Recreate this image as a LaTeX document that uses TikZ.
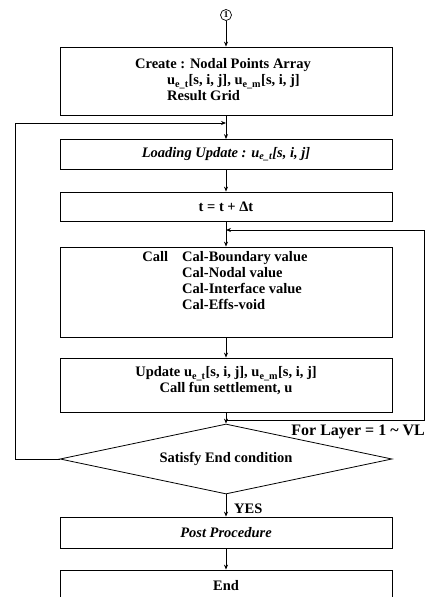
\documentclass[tikz,border=0pt]{standalone}
\usepackage{fontspec}
\setmainfont{Liberation Serif}
\usetikzlibrary{shapes.geometric,arrows.meta}
\newcommand{\ue}[1]{u\textsubscript{e\_#1}}
\begin{document}
\begin{tikzpicture}[x=1pt,y=-1pt,
  font=\bfseries\fontsize{14.5}{16}\selectfont,
  box/.style={draw, line width=0.8pt, minimum width=332pt, inner sep=0pt, align=center},
  txt/.style={inner sep=0pt, align=left},
  arr/.style={-{Stealth[length=5pt,width=4pt]}, line width=0.8pt},
  ln/.style={line width=0.8pt}]
\useasboundingbox (0,0) rectangle (427,597);
\clip (0,0) rectangle (427,597);
% nodes
\node[draw, circle, line width=0.7pt, inner sep=0pt, minimum size=11pt, font=\bfseries\fontsize{9}{9}\selectfont] (c1) at (226,15) {1};
\node[box, minimum height=68pt] (b1) at (226,81) {};
\node[txt] (t1) at (223,80) {Create : Nodal Points Array\\
  \hspace*{32pt}\ue{t}[s, i, j], \ue{m}[s, i, j]\\
  \hspace*{32pt}Result Grid};
\node[box, minimum height=30pt, font=\bfseries\itshape\fontsize{14.5}{16}\selectfont] (b2) at (226,154.5) {Loading Update : \ue{t}[s, i, j]};
\node[box, minimum height=29pt] (b3) at (226,206.5) {t = t + Δt};
\node[box, minimum height=90pt] (b4) at (226,292) {};
\node[txt] (t4) at (225,282) {\begin{tabular}{@{}l@{\hspace{14pt}}l@{}}
  Call & Cal-Boundary value\\
       & Cal-Nodal value\\
       & Cal-Interface value\\
       & Cal-Effs-void
  \end{tabular}};
\node[box, minimum height=54pt] (b5) at (226,385) {};
\node[txt, align=center] (t5) at (226,381) {Update \ue{t}[s, i, j], \ue{m}[s, i, j]\\ Call fun settlement, u};
\node[draw, diamond, line width=0.8pt, inner sep=0pt, aspect=4.7, minimum width=332pt, minimum height=70pt] (d) at (226,459) {Satisfy End condition};
\node[box, minimum height=31pt, font=\bfseries\itshape\fontsize{14.5}{16}\selectfont] (b6) at (226,532.5) {Post Procedure};
\node[box, minimum height=32pt] (b7) at (226,586) {End};
\node[inner sep=0pt, anchor=west] (yes) at (234,509) {YES};
\node[inner sep=0pt, anchor=east, font=\bfseries\fontsize{16}{18}\selectfont] (lay) at (425,432) {For Layer = 1 \textasciitilde{} VL};
% coordinates
\coordinate (m1) at (226,123);
\coordinate (m2) at (226,230);
\coordinate (m3) at (226,420);
\coordinate (l1) at (15,459);
\coordinate (l2) at (15,123);
\coordinate (r1) at (424,420);
\coordinate (r2) at (424,230);
% connectors
\draw[arr] (c1.south) -- (b1.north);
\draw[arr] (b1.south) -- (b2.north);
\draw[arr] (b2.south) -- (b3.north);
\draw[arr] (b3.south) -- (b4.north);
\draw[arr] (b4.south) -- (b5.north);
\draw[arr] (b5.south) -- (d.north);
\draw[arr] (d.south) -- (b6.north);
\draw[arr] (b6.south) -- (b7.north);
\draw[arr] (d.west) -- (l1) -- (l2) -- (m1);
\draw[arr] (m3) -- (r1) -- (r2) -- (m2);
\end{tikzpicture}
\end{document}
